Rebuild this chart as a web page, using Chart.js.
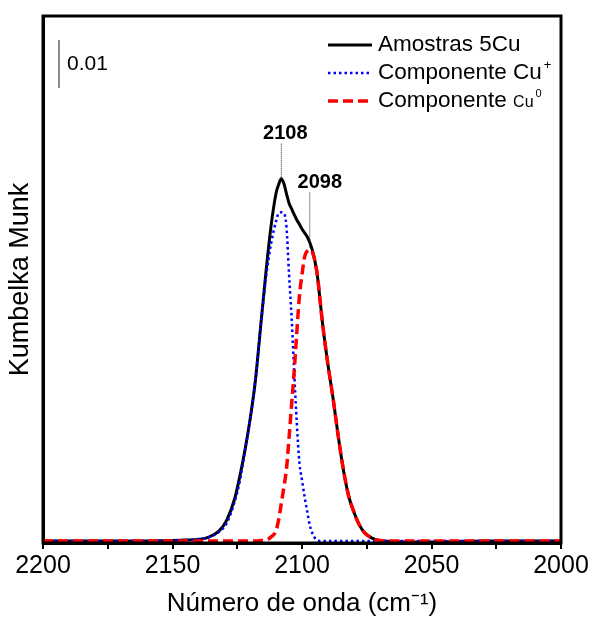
<!DOCTYPE html>
<html lang="pt">
<head>
<meta charset="UTF-8">
<title>Kumbelka Munk - Amostras 5Cu</title>
<script src="https://cdn.jsdelivr.net/npm/chart.js"></script>
<style>
  body { margin: 0; background: #fff; }
  canvas { display: block; }
</style>
</head>
<body>
<canvas id="grafico" width="592" height="621"></canvas>
<script>
// número de onda (cm-1)
var numeroOnda = [2200, 2180, 2160, 2150, 2145, 2140, 2136, 2132, 2129, 2126,
                  2124, 2122, 2120, 2118, 2116, 2114, 2112, 2110, 2109, 2108,
                  2107, 2106, 2105, 2104, 2103, 2102, 2101, 2100, 2099, 2098,
                  2097, 2096, 2095, 2094, 2093, 2092, 2090, 2088, 2086, 2084,
                  2082, 2080, 2078, 2076, 2073, 2070, 2066, 2060, 2050, 2040,
                  2030, 2020, 2000];

// espectro medido
var amostra5Cu = [0, 0, 0, 0.0001, 0.0002, 0.0003, 0.0008, 0.0021, 0.0044, 0.0088,
                  0.0135, 0.019, 0.0255, 0.0334, 0.0445, 0.0556, 0.0654, 0.0725, 0.0743, 0.0755,
                  0.0745, 0.0724, 0.0704, 0.0692, 0.068, 0.0669, 0.066, 0.065, 0.0642, 0.0634,
                  0.0622, 0.0606, 0.0583, 0.055, 0.050, 0.045, 0.0368, 0.0297, 0.0218, 0.0148,
                  0.0094, 0.0061, 0.0035, 0.0018, 0.0006, 0.0001, -0.0001, -0.0002, -0.0002, -0.0001,
                  0, 0, 0];

// componente Cu+
var compCuMais = [0, 0, 0, 0.0001, 0.0002, 0.0004, 0.0008, 0.0019, 0.0038, 0.0082,
                  0.0125, 0.0188, 0.0254, 0.0335, 0.0445, 0.0545, 0.0618, 0.0667, 0.0683, 0.0685,
                  0.0683, 0.0655, 0.0555, 0.0465, 0.035, 0.0245, 0.0163, 0.0127, 0.0092, 0.0062,
                  0.0033, 0.0016, 0.0006, 0.0002, 0, 0, 0, 0, 0, 0,
                  0, 0, 0, 0, 0, 0, 0, 0, 0, 0,
                  0, 0, 0];

// componente Cu0
var compCu0 = [0, 0, 0, 0, 0, 0, 0, 0, 0, 0,
               0, 0, 0, 0, 0.0001, 0.0002, 0.0008, 0.0022, 0.0045, 0.0078,
               0.0112, 0.015, 0.0215, 0.0285, 0.0355, 0.0435, 0.051, 0.0555, 0.0592, 0.0604,
               0.0607, 0.0602, 0.0583, 0.0552, 0.050, 0.045, 0.0368, 0.0297, 0.0218, 0.0148,
               0.0094, 0.0061, 0.0035, 0.0018, 0.0006, 0.0001, 0, 0, 0, 0,
               0, 0, 0];

var rotulosPico = ['2108', '2098'];
var posicoesPico = [2108, 2097];
var escala = 0.01;

var fonte = '"Liberation Sans", Arial, sans-serif';

function pares(valores) {
    return numeroOnda.map(function (x, i) { return { x: x, y: valores[i] }; });
}

// moldura, barra de escala, picos e legenda
var extras = {
    id: 'extras',
    afterDraw: function (chart) {
        var ctx = chart.ctx, a = chart.chartArea;
        var xs = chart.scales.x, ys = chart.scales.y;
        var ds = chart.data.datasets;
        ctx.save();

        ctx.strokeStyle = '#000';
        ctx.lineWidth = 3;
        ctx.strokeRect(a.left, a.top, a.right - a.left, a.bottom - a.top);

        // barra 0.01
        var y0 = 40;
        var len = ys.getPixelForValue(0) - ys.getPixelForValue(escala);
        ctx.lineWidth = 1.5;
        ctx.strokeStyle = '#666';
        ctx.beginPath();
        ctx.moveTo(59, y0);
        ctx.lineTo(59, y0 + len);
        ctx.stroke();
        ctx.fillStyle = '#000';
        ctx.font = '21px ' + fonte;
        ctx.textBaseline = 'middle';
        ctx.fillText('0.01', 67, y0 + len / 2);

        // marcas dos picos
        ctx.font = 'bold 20px ' + fonte;
        ctx.textAlign = 'center';
        ctx.setLineDash([1, 1]);
        ctx.lineWidth = 1;
        ctx.strokeStyle = '#222';
        var comp = [35, 50];
        var desl = [4, 10];
        posicoesPico.forEach(function (p, i) {
            var k = numeroOnda.indexOf(p);
            var px = xs.getPixelForValue(p);
            var py = ys.getPixelForValue(amostra5Cu[k]);
            var topo = py - comp[i];
            ctx.beginPath();
            ctx.moveTo(px, topo);
            ctx.lineTo(px, py + (i === 1 ? 6 : 0));
            ctx.stroke();
            ctx.fillText(rotulosPico[i], px + desl[i], topo - 10);
        });

        // legenda
        ctx.textAlign = 'left';
        var linhasY = [45, 73, 101];
        ds.forEach(function (d, i) {
            ctx.setLineDash(d.borderDash || []);
            ctx.strokeStyle = d.borderColor;
            ctx.lineWidth = d.borderWidth;
            ctx.beginPath();
            ctx.moveTo(328, linhasY[i]);
            ctx.lineTo(372, linhasY[i]);
            ctx.stroke();
        });
        ctx.setLineDash([]);
        ctx.fillStyle = '#000';
        ctx.font = '22.5px ' + fonte;
        ctx.fillText('Amostras 5Cu', 378, linhasY[0]);
        ctx.fillText('Componente Cu', 378, linhasY[1]);
        var w = ctx.measureText('Componente Cu').width;
        ctx.font = '13px ' + fonte;
        ctx.fillText('+', 378 + w + 2, linhasY[1] - 8);
        ctx.font = '22.5px ' + fonte;
        ctx.fillText('Componente ', 378, linhasY[2]);
        w = ctx.measureText('Componente ').width;
        ctx.font = '16px ' + fonte;
        ctx.fillText('Cu', 378 + w, linhasY[2] + 2);
        var w2 = ctx.measureText('Cu').width;
        ctx.font = '11px ' + fonte;
        ctx.fillText('0', 378 + w + w2 + 2, linhasY[2] - 7);

        ctx.restore();
    }
};

new Chart(document.getElementById('grafico'), {
    type: 'line',
    data: {
        datasets: [{
            label: 'Amostras 5Cu',
            data: pares(amostra5Cu),
            borderColor: '#000000',
            borderWidth: 3,
            order: 3
        }, {
            label: 'Componente Cu+',
            data: pares(compCuMais),
            borderColor: '#0000ff',
            borderWidth: 2.5,
            borderDash: [2.5, 3],
            order: 2
        }, {
            label: 'Componente Cu0',
            data: pares(compCu0),
            borderColor: '#ff0000',
            borderWidth: 3.5,
            borderDash: [10, 5],
            order: 1
        }]
    },
    options: {
        responsive: false,
        animation: false,
        layout: { padding: { left: 0, right: 31, top: 16, bottom: 0 } },
        elements: {
            point: { radius: 0 },
            line: { cubicInterpolationMode: 'monotone', fill: false }
        },
        plugins: {
            legend: { display: false },
            tooltip: { enabled: false }
        },
        scales: {
            x: {
                type: 'linear',
                reverse: true,
                min: 2000,
                max: 2200,
                afterFit: function (s) { s.height = 78; },
                ticks: {
                    stepSize: 25,
                    autoSkip: false,
                    maxRotation: 0,
                    padding: 2,
                    color: '#000',
                    font: { size: 25, family: fonte },
                    callback: function (v) { return v % 50 === 0 ? String(v) : ''; }
                },
                grid: { drawOnChartArea: false, drawTicks: true, tickLength: 6, color: '#000', lineWidth: 2 },
                border: { display: true, color: '#000', width: 3 },
                title: {
                    display: true,
                    text: 'Número de onda (cm⁻¹)',
                    color: '#000',
                    font: { size: 26, family: fonte },
                    padding: { top: 0, bottom: 2 }
                }
            },
            y: {
                min: -0.00042,
                max: 0.1094,
                afterFit: function (s) { s.width = 43; },
                ticks: { display: false },
                grid: { drawOnChartArea: false, drawTicks: false },
                border: { display: true, color: '#000', width: 3 },
                title: {
                    display: true,
                    text: 'Kumbelka Munk',
                    color: '#000',
                    font: { size: 27, family: fonte },
                    padding: { top: 4, bottom: 0 }
                }
            }
        }
    },
    plugins: [extras]
});
</script>
</body>
</html>
